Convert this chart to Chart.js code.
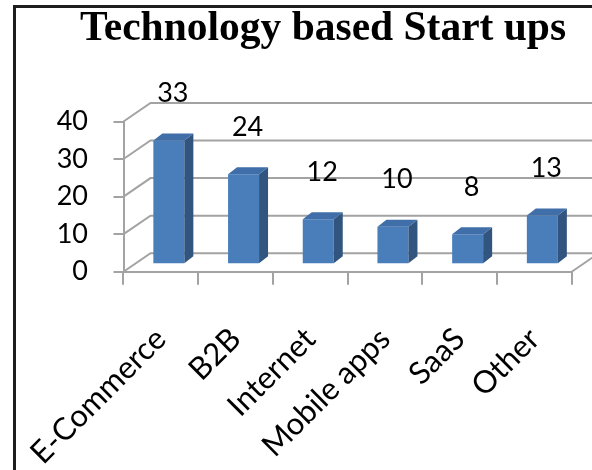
<!DOCTYPE html>
<html>
<head>
<meta charset="utf-8">
<title>Technology based Start ups</title>
<script src="https://cdn.jsdelivr.net/npm/chart.js@4.4.0/dist/chart.umd.min.js"></script>
<style>
  html, body { margin: 0; padding: 0; background: #fff; overflow: hidden; }
  #frame { position: absolute; left: 13px; top: 5px; width: 614px; height: 480px; border: 3px solid #1e1e1e; }
  canvas { display: block; }
</style>
</head>
<body>
<div id="frame"><canvas id="startups" width="614" height="480"></canvas></div>
<script>
const categories = ["E-Commerce", "B2B", "Internet", "Mobile apps", "SaaS", "Other"];
const startupCounts = [33, 24, 12, 10, 8, 13];
const yTicks = [0, 10, 20, 30, 40];
const chartTitle = 'Technology based Start ups';

// oblique depth of the box walls and of each bar
const WALL_DX = 27, WALL_DY = -18.5;
const BAR_SHIFT_X = 8, BAR_SHIFT_Y = -7.4;
const BAR_DX = 9, BAR_DY = -7;

const GRID = '#a3a3a3';
const FRONT = '#4a7ebb';
const SIDE = '#32557f';
const TOP = '#3f6ea8';

const numFont = "27px Lato, 'Liberation Sans', sans-serif";

const box3d = {
    id: 'box3d',
    beforeDatasetsDraw(chart) {
        const { ctx, chartArea: a, scales: { y } } = chart;
        ctx.save();
        ctx.strokeStyle = GRID;
        ctx.lineWidth = 2;
        // left wall diagonals + back wall lines
        yTicks.forEach(v => {
            const py = y.getPixelForValue(v);
            ctx.beginPath();
            ctx.moveTo(a.left, py);
            ctx.lineTo(a.left + WALL_DX, py + WALL_DY);
            ctx.lineTo(a.right + WALL_DX, py + WALL_DY);
            ctx.stroke();
        });
        // floor right edge
        ctx.beginPath();
        ctx.moveTo(a.right, a.bottom);
        ctx.lineTo(a.right + WALL_DX, a.bottom + WALL_DY);
        ctx.stroke();
        ctx.restore();

        // bars stand halfway back on the floor
        ctx.save();
        ctx.translate(BAR_SHIFT_X, BAR_SHIFT_Y);
    },
    afterDatasetsDraw(chart) {
        const ctx = chart.ctx;
        const meta = chart.getDatasetMeta(0);
        meta.data.forEach((bar, i) => {
            const { x, y, base, width } = bar.getProps(['x', 'y', 'base', 'width'], true);
            const l = x - width / 2, r = x + width / 2;

            ctx.fillStyle = SIDE;
            ctx.beginPath();
            ctx.moveTo(r, y);
            ctx.lineTo(r + BAR_DX, y + BAR_DY);
            ctx.lineTo(r + BAR_DX, base + BAR_DY);
            ctx.lineTo(r, base);
            ctx.closePath();
            ctx.fill();

            ctx.fillStyle = TOP;
            ctx.beginPath();
            ctx.moveTo(l, y);
            ctx.lineTo(l + BAR_DX, y + BAR_DY);
            ctx.lineTo(r + BAR_DX, y + BAR_DY);
            ctx.lineTo(r, y);
            ctx.closePath();
            ctx.fill();

            ctx.fillStyle = '#000';
            ctx.font = numFont;
            ctx.textAlign = 'center';
            ctx.textBaseline = 'middle';
            ctx.fillText(String(startupCounts[i]), x + 4, y - 47);
        });
        ctx.restore();
    },
    afterDraw(chart) {
        // title centred on the whole chart box, not on the plot
        const ctx = chart.ctx;
        ctx.save();
        ctx.fillStyle = '#000';
        ctx.font = "bold 41.5px 'Liberation Serif', 'Times New Roman', serif";
        ctx.textAlign = 'center';
        ctx.textBaseline = 'alphabetic';
        ctx.fillText(chartTitle, chart.width / 2, 32);
        ctx.restore();
    }
};

new Chart(document.getElementById('startups'), {
    type: 'bar',
    data: {
        labels: categories,
        datasets: [{
            data: startupCounts,
            backgroundColor: FRONT,
            borderWidth: 0,
            barPercentage: 0.415,
            categoryPercentage: 1,
            clip: false
        }]
    },
    options: {
        responsive: false,
        animation: false,
        devicePixelRatio: 1,
        layout: { padding: { left: 0, right: 58.3, top: 113.5, bottom: 0 } },
        plugins: {
            legend: { display: false },
            tooltip: { enabled: false },
            title: { display: false }
        },
        scales: {
            x: {
                offset: true,
                grid: { offset: true, drawOnChartArea: false, drawTicks: true, tickLength: 13, color: GRID, lineWidth: 2 },
                border: { display: true, color: GRID, width: 2 },
                ticks: {
                    autoSkip: false,
                    minRotation: 45,
                    maxRotation: 45,
                    padding: 36,
                    color: '#000',
                    font: { family: "Lato, 'Liberation Sans', sans-serif", size: 31 }
                },
                afterFit(scale) {
                    scale.height = 216.3;
                    // long rotated labels may run into the left margin
                    scale.paddingLeft = 0;
                    scale.paddingRight = 0;
                }
            },
            y: {
                min: 0,
                max: 40,
                ticks: {
                    stepSize: 10,
                    padding: 25.5,
                    color: '#000',
                    font: { family: "Lato, 'Liberation Sans', sans-serif", size: 27 }
                },
                grid: { drawOnChartArea: false, drawTicks: true, tickLength: 10, color: GRID, lineWidth: 2 },
                border: { display: true, color: GRID, width: 2 },
                afterFit(scale) { scale.width = 107.5; }
            }
        }
    },
    plugins: [box3d]
});
</script>
</body>
</html>
